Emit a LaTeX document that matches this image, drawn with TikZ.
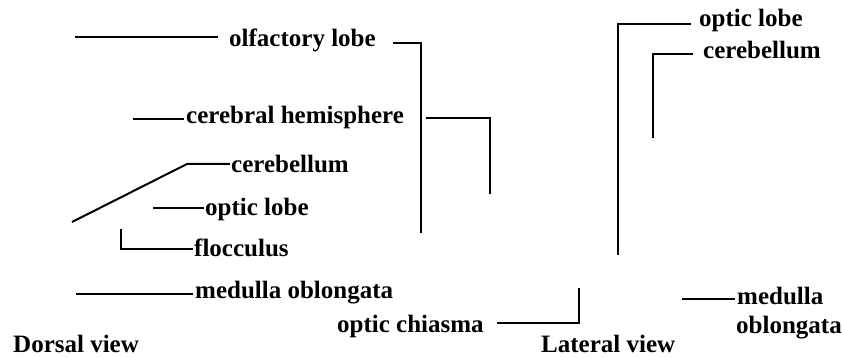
\documentclass[tikz,border=0pt]{standalone}
\usepackage{fontspec}
\setmainfont{Liberation Serif}
\begin{document}
\begin{tikzpicture}[x=1pt,y=-1pt,
  lbl/.style={font=\fontsize{25}{28}\selectfont\bfseries, inner sep=0pt, anchor=base west},
  ln/.style={line width=2pt}]
\useasboundingbox (0,0) rectangle (842,358);
% dorsal view labels
\node[lbl] (olf) at (229,47) {olfactory lobe};
\node[lbl] (ceh) at (186,124) {cerebral hemisphere};
\node[lbl] (cbd) at (231,172) {cerebellum};
\node[lbl] (old) at (205,215) {optic lobe};
\node[lbl] (flo) at (194,256) {flocculus};
\node[lbl] (med) at (195,298) {medulla oblongata};
\node[lbl] (och) at (337,332) {optic chiasma};
\node[lbl] (dv) at (13,352) {Dorsal view};
% lateral view labels
\node[lbl] (oll) at (699,27) {optic lobe};
\node[lbl] (cbl) at (703,59) {cerebellum};
\node[lbl] (mdl) at (737,304) {medulla};
\node[lbl] (obl) at (736,333) {oblongata};
\node[lbl] (lv) at (541,352) {Lateral view};
% free ends
\coordinate (a1) at (75,37);   \coordinate (a2) at (218,37);
\coordinate (b1) at (393,43);  \coordinate (b2) at (421,43);  \coordinate (b3) at (421,233);
\coordinate (c1) at (133,119); \coordinate (c2) at (184,119);
\coordinate (d1) at (426,118); \coordinate (d2) at (490,118); \coordinate (d3) at (490,194);
\coordinate (e1) at (72,222);  \coordinate (e2) at (187,164); \coordinate (e3) at (230,164);
\coordinate (f1) at (153,208); \coordinate (f2) at (204,208);
\coordinate (g1) at (121,229); \coordinate (g2) at (121,249); \coordinate (g3) at (193,249);
\coordinate (h1) at (76,294);  \coordinate (h2) at (193,294);
\coordinate (i1) at (497,323); \coordinate (i2) at (579,323); \coordinate (i3) at (579,288);
\coordinate (j1) at (618,255); \coordinate (j2) at (618,24);  \coordinate (j3) at (691,24);
\coordinate (k1) at (653,138); \coordinate (k2) at (653,54);  \coordinate (k3) at (693,54);
\coordinate (l1) at (682,299); \coordinate (l2) at (735,299);
% connectors
\draw[ln] (a1) -- (a2);
\draw[ln] (b1) -- (b2) -- (b3);
\draw[ln] (c1) -- (c2);
\draw[ln] (d1) -- (d2) -- (d3);
\draw[ln] (e1) -- (e2) -- (e3);
\draw[ln] (f1) -- (f2);
\draw[ln] (g1) -- (g2) -- (g3);
\draw[ln] (h1) -- (h2);
\draw[ln] (i1) -- (i2) -- (i3);
\draw[ln] (j1) -- (j2) -- (j3);
\draw[ln] (k1) -- (k2) -- (k3);
\draw[ln] (l1) -- (l2);
\end{tikzpicture}
\end{document}
